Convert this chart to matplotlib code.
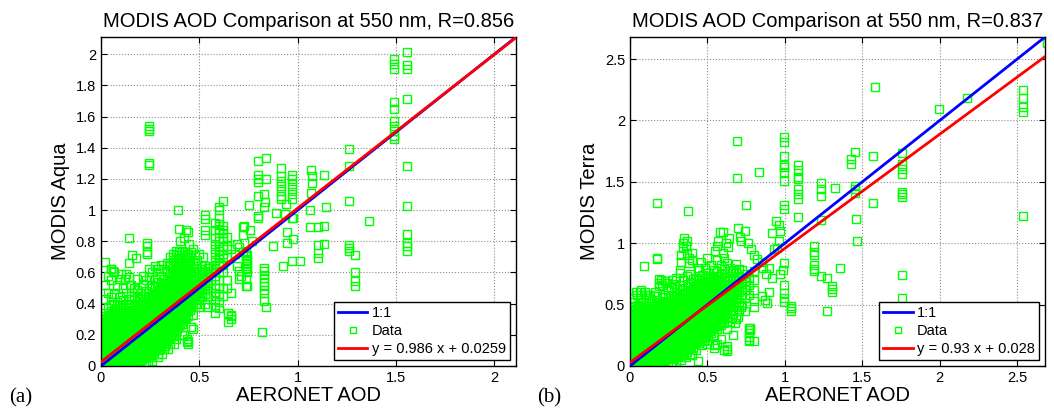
import matplotlib
matplotlib.use("Agg")
import matplotlib.pyplot as plt
from matplotlib.ticker import FuncFormatter

plt.rcParams['font.family'] = ['Liberation Sans', 'DejaVu Sans']

# ---- panel (a): MODIS Aqua vs AERONET ----
aqua_lim = 2.11
aqua_fit = (0.986, 0.0259)
aqua_R = 0.856

# dense core, read column by column: (aeronet, [modis values])
aqua_core = [
    (0.005, [0.0, 0.02, 0.04, 0.065, 0.09, 0.11, 0.135, 0.16, 0.18, 0.205, 0.23, 0.25, 0.275, 0.30, 0.32]),
    (0.02, [0.01, 0.03, 0.055, 0.08, 0.10, 0.125, 0.15, 0.17, 0.195, 0.22, 0.24, 0.265, 0.29, 0.31, 0.34, 0.43, 0.52]),
    (0.035, [0.0, 0.025, 0.045, 0.07, 0.095, 0.12, 0.14, 0.165, 0.19, 0.21, 0.235, 0.26, 0.28, 0.305, 0.33, 0.37, 0.47, 0.58]),
    (0.05, [0.01, 0.035, 0.06, 0.085, 0.105, 0.13, 0.155, 0.175, 0.20, 0.225, 0.25, 0.27, 0.295, 0.32, 0.35, 0.39, 0.44, 0.55, 0.62]),
    (0.065, [0.0, 0.025, 0.05, 0.075, 0.10, 0.12, 0.145, 0.17, 0.19, 0.215, 0.24, 0.26, 0.285, 0.31, 0.335, 0.36, 0.40, 0.46, 0.60]),
    (0.08, [0.01, 0.035, 0.06, 0.08, 0.105, 0.13, 0.155, 0.18, 0.20, 0.225, 0.25, 0.275, 0.30, 0.32, 0.345, 0.37, 0.41, 0.52]),
    (0.095, [0.0, 0.02, 0.045, 0.07, 0.095, 0.115, 0.14, 0.165, 0.19, 0.21, 0.235, 0.26, 0.28, 0.305, 0.33, 0.36, 0.39, 0.44, 0.56]),
    (0.11, [0.01, 0.035, 0.06, 0.085, 0.105, 0.13, 0.155, 0.175, 0.20, 0.225, 0.25, 0.27, 0.295, 0.32, 0.345, 0.38, 0.42, 0.50]),
    (0.125, [0.0, 0.025, 0.05, 0.075, 0.095, 0.12, 0.145, 0.17, 0.19, 0.215, 0.24, 0.26, 0.285, 0.31, 0.335, 0.36, 0.40, 0.47, 0.59]),
    (0.14, [0.02, 0.045, 0.07, 0.09, 0.115, 0.14, 0.16, 0.185, 0.21, 0.235, 0.255, 0.28, 0.305, 0.33, 0.355, 0.39, 0.43, 0.57]),
    (0.155, [0.01, 0.035, 0.06, 0.085, 0.11, 0.13, 0.155, 0.18, 0.20, 0.225, 0.25, 0.275, 0.30, 0.32, 0.345, 0.37, 0.40, 0.45, 0.52]),
    (0.17, [0.02, 0.05, 0.075, 0.10, 0.12, 0.145, 0.17, 0.19, 0.215, 0.24, 0.26, 0.285, 0.31, 0.335, 0.36, 0.385, 0.42, 0.50]),
    (0.185, [0.04, 0.065, 0.09, 0.11, 0.135, 0.16, 0.18, 0.205, 0.23, 0.25, 0.275, 0.30, 0.325, 0.35, 0.37, 0.40, 0.44, 0.49, 0.56]),
    (0.20, [0.03, 0.06, 0.085, 0.11, 0.13, 0.155, 0.18, 0.20, 0.225, 0.25, 0.27, 0.295, 0.32, 0.345, 0.37, 0.395, 0.43, 0.47]),
    (0.215, [0.05, 0.075, 0.10, 0.12, 0.145, 0.17, 0.19, 0.215, 0.24, 0.26, 0.285, 0.31, 0.335, 0.36, 0.38, 0.41, 0.45, 0.52, 0.58]),
    (0.23, [0.02, 0.07, 0.09, 0.115, 0.14, 0.16, 0.185, 0.21, 0.235, 0.255, 0.28, 0.305, 0.33, 0.355, 0.38, 0.40, 0.43, 0.48, 0.55]),
    (0.245, [0.08, 0.10, 0.125, 0.15, 0.175, 0.20, 0.22, 0.245, 0.27, 0.29, 0.315, 0.34, 0.365, 0.39, 0.41, 0.44, 0.50, 0.57, 0.62]),
    (0.26, [0.06, 0.09, 0.12, 0.145, 0.17, 0.19, 0.215, 0.24, 0.26, 0.285, 0.31, 0.335, 0.36, 0.38, 0.405, 0.43, 0.46, 0.52, 0.60]),
    (0.275, [0.10, 0.13, 0.155, 0.18, 0.20, 0.225, 0.25, 0.27, 0.295, 0.32, 0.345, 0.37, 0.39, 0.415, 0.44, 0.47, 0.51, 0.56, 0.64]),
    (0.29, [0.08, 0.12, 0.145, 0.17, 0.19, 0.215, 0.24, 0.26, 0.285, 0.31, 0.335, 0.36, 0.385, 0.41, 0.435, 0.46, 0.49, 0.54, 0.62]),
    (0.305, [0.13, 0.16, 0.185, 0.21, 0.23, 0.255, 0.28, 0.30, 0.325, 0.35, 0.375, 0.40, 0.42, 0.445, 0.47, 0.50, 0.53, 0.58, 0.65]),
    (0.32, [0.11, 0.15, 0.175, 0.20, 0.225, 0.25, 0.27, 0.295, 0.32, 0.345, 0.37, 0.39, 0.415, 0.44, 0.465, 0.49, 0.52, 0.56, 0.62]),
    (0.335, [0.16, 0.19, 0.215, 0.24, 0.26, 0.285, 0.31, 0.335, 0.36, 0.38, 0.405, 0.43, 0.455, 0.48, 0.50, 0.53, 0.56, 0.60, 0.66]),
    (0.35, [0.14, 0.18, 0.21, 0.235, 0.26, 0.28, 0.305, 0.33, 0.355, 0.38, 0.40, 0.425, 0.45, 0.475, 0.50, 0.52, 0.55, 0.59, 0.64, 0.70]),
    (0.365, [0.20, 0.23, 0.255, 0.28, 0.30, 0.325, 0.35, 0.375, 0.40, 0.42, 0.445, 0.47, 0.495, 0.52, 0.54, 0.57, 0.60, 0.64, 0.68, 0.72]),
    (0.38, [0.17, 0.22, 0.25, 0.275, 0.30, 0.32, 0.345, 0.37, 0.395, 0.42, 0.44, 0.465, 0.49, 0.515, 0.54, 0.56, 0.59, 0.62, 0.66, 0.71, 0.74]),
    (0.395, [0.25, 0.28, 0.305, 0.33, 0.35, 0.375, 0.40, 0.425, 0.45, 0.47, 0.495, 0.52, 0.545, 0.57, 0.59, 0.62, 0.65, 0.69, 0.73]),
    (0.41, [0.20, 0.27, 0.30, 0.325, 0.35, 0.37, 0.395, 0.42, 0.445, 0.47, 0.49, 0.515, 0.54, 0.565, 0.59, 0.61, 0.64, 0.67, 0.71, 0.74]),
    (0.425, [0.30, 0.33, 0.355, 0.38, 0.40, 0.425, 0.45, 0.475, 0.50, 0.52, 0.545, 0.57, 0.595, 0.62, 0.64, 0.67, 0.70, 0.73]),
    (0.44, [0.14, 0.16, 0.32, 0.35, 0.375, 0.40, 0.42, 0.445, 0.47, 0.495, 0.52, 0.54, 0.565, 0.59, 0.615, 0.64, 0.66, 0.69, 0.72, 0.86]),
    (0.455, [0.36, 0.39, 0.415, 0.44, 0.46, 0.485, 0.51, 0.535, 0.56, 0.58, 0.605, 0.63, 0.655, 0.70]),
    (0.47, [0.33, 0.38, 0.41, 0.435, 0.46, 0.48, 0.505, 0.53, 0.555, 0.58, 0.60, 0.62, 0.66]),
    (0.485, [0.40, 0.43, 0.455, 0.48, 0.50, 0.525, 0.55, 0.575, 0.60, 0.64]),
    (0.50, [0.38, 0.42, 0.45, 0.475, 0.50, 0.52, 0.545, 0.57, 0.60]),
    (0.515, [0.44, 0.47, 0.495, 0.52, 0.54, 0.565, 0.59, 0.62]),
    (0.53, [0.40, 0.46, 0.49, 0.52, 0.55, 0.58, 0.61, 0.64, 0.84, 0.87, 0.94, 0.97]),
    (0.545, [0.38, 0.45, 0.50, 0.53, 0.57, 0.60, 0.63]),
    (0.58, [0.92, 0.87, 0.82, 0.78, 0.75, 0.72, 0.68, 0.65, 0.62, 0.58, 0.55, 0.50, 0.47, 0.45, 0.42, 0.38, 0.34]),
    (0.60, [1.02, 1.0, 0.95, 0.91, 0.88, 0.85, 0.80, 0.77, 0.74, 0.71, 0.69, 0.66, 0.64, 0.60, 0.55, 0.50, 0.46, 0.41, 0.37]),
    (0.62, [1.06, 0.90, 0.87, 0.85, 0.82, 0.80, 0.76, 0.72, 0.69, 0.65, 0.60, 0.50, 0.45]),
]

# the in-between columns of the solid part of the cloud
aqua_fill = [
    (0.012, [0.01, 0.03, 0.055, 0.08, 0.10, 0.125, 0.15, 0.17, 0.195, 0.22, 0.24, 0.265, 0.29]),
    (0.027, [0.0, 0.02, 0.045, 0.07, 0.09, 0.115, 0.14, 0.16, 0.185, 0.21, 0.23, 0.255, 0.28, 0.30]),
    (0.042, [0.01, 0.035, 0.06, 0.08, 0.105, 0.13, 0.15, 0.175, 0.20, 0.22, 0.245, 0.27, 0.29, 0.32]),
    (0.057, [0.0, 0.02, 0.045, 0.07, 0.095, 0.115, 0.14, 0.165, 0.19, 0.21, 0.235, 0.26, 0.28, 0.31]),
    (0.072, [0.01, 0.035, 0.06, 0.085, 0.105, 0.13, 0.155, 0.175, 0.20, 0.225, 0.25, 0.27, 0.295, 0.32]),
    (0.087, [0.0, 0.02, 0.045, 0.07, 0.095, 0.12, 0.14, 0.165, 0.19, 0.21, 0.235, 0.26, 0.285, 0.31]),
    (0.102, [0.01, 0.03, 0.055, 0.08, 0.10, 0.125, 0.15, 0.175, 0.195, 0.22, 0.245, 0.265, 0.29, 0.315]),
    (0.117, [0.0, 0.02, 0.045, 0.07, 0.09, 0.115, 0.14, 0.16, 0.185, 0.21, 0.23, 0.255, 0.28, 0.30]),
    (0.132, [0.01, 0.035, 0.06, 0.08, 0.105, 0.13, 0.15, 0.175, 0.20, 0.225, 0.245, 0.27, 0.295, 0.32]),
    (0.147, [0.0, 0.025, 0.05, 0.075, 0.10, 0.12, 0.145, 0.17, 0.195, 0.215, 0.24, 0.265, 0.29, 0.31, 0.335]),
    (0.162, [0.02, 0.045, 0.07, 0.09, 0.115, 0.14, 0.165, 0.185, 0.21, 0.235, 0.26, 0.28, 0.305, 0.33, 0.355]),
    (0.177, [0.03, 0.055, 0.08, 0.105, 0.125, 0.15, 0.175, 0.20, 0.22, 0.245, 0.27, 0.29, 0.315, 0.34, 0.36]),
    (0.192, [0.05, 0.075, 0.10, 0.12, 0.145, 0.17, 0.19, 0.215, 0.24, 0.265, 0.285, 0.31, 0.335, 0.36, 0.38]),
    (0.207, [0.04, 0.065, 0.09, 0.115, 0.135, 0.16, 0.185, 0.21, 0.23, 0.255, 0.28, 0.30, 0.325, 0.35, 0.375, 0.40]),
    (0.222, [0.06, 0.085, 0.11, 0.13, 0.155, 0.18, 0.205, 0.225, 0.25, 0.275, 0.295, 0.32, 0.345, 0.37, 0.39]),
    (0.237, [0.08, 0.105, 0.13, 0.15, 0.175, 0.20, 0.225, 0.245, 0.27, 0.295, 0.32, 0.34, 0.365, 0.39, 0.415]),
    (0.252, [0.07, 0.095, 0.12, 0.14, 0.165, 0.19, 0.215, 0.235, 0.26, 0.285, 0.31, 0.33, 0.355, 0.38, 0.40, 0.425]),
    (0.267, [0.09, 0.115, 0.14, 0.16, 0.185, 0.21, 0.235, 0.255, 0.28, 0.305, 0.33, 0.35, 0.375, 0.40, 0.42, 0.445]),
    (0.282, [0.11, 0.135, 0.16, 0.18, 0.205, 0.23, 0.255, 0.275, 0.30, 0.325, 0.35, 0.37, 0.395, 0.42, 0.44, 0.465]),
    (0.297, [0.10, 0.13, 0.155, 0.175, 0.20, 0.225, 0.25, 0.27, 0.295, 0.32, 0.345, 0.365, 0.39, 0.415, 0.44, 0.46, 0.485]),
    (0.312, [0.14, 0.165, 0.19, 0.21, 0.235, 0.26, 0.285, 0.305, 0.33, 0.355, 0.38, 0.40, 0.425, 0.45, 0.475, 0.50]),
    (0.327, [0.13, 0.16, 0.185, 0.205, 0.23, 0.255, 0.28, 0.30, 0.325, 0.35, 0.375, 0.395, 0.42, 0.445, 0.47, 0.49, 0.515]),
    (0.342, [0.17, 0.20, 0.225, 0.25, 0.27, 0.295, 0.32, 0.345, 0.365, 0.39, 0.415, 0.44, 0.46, 0.485, 0.51, 0.535]),
    (0.357, [0.19, 0.22, 0.245, 0.27, 0.29, 0.315, 0.34, 0.365, 0.385, 0.41, 0.435, 0.46, 0.48, 0.505, 0.53, 0.555]),
    (0.372, [0.21, 0.24, 0.265, 0.29, 0.31, 0.335, 0.36, 0.385, 0.405, 0.43, 0.455, 0.48, 0.50, 0.525, 0.55, 0.575, 0.60]),
    (0.387, [0.24, 0.265, 0.29, 0.315, 0.335, 0.36, 0.385, 0.41, 0.43, 0.455, 0.48, 0.505, 0.525, 0.55, 0.575, 0.60, 0.63]),
    (0.402, [0.26, 0.29, 0.315, 0.34, 0.36, 0.385, 0.41, 0.435, 0.455, 0.48, 0.505, 0.53, 0.55, 0.575, 0.60, 0.625, 0.66]),
    (0.417, [0.29, 0.315, 0.34, 0.365, 0.385, 0.41, 0.435, 0.46, 0.48, 0.505, 0.53, 0.555, 0.575, 0.60, 0.625, 0.65]),
    (0.432, [0.31, 0.34, 0.365, 0.39, 0.41, 0.435, 0.46, 0.485, 0.505, 0.53, 0.555, 0.58, 0.60, 0.625, 0.65, 0.68]),
]

# scattered points outside the core: (aeronet, modis)
aqua_scatter = [
    (0.02, 0.67), (0.05, 0.62), (0.06, 0.61), (0.10, 0.59), (0.12, 0.56), (0.14, 0.82),
    (0.15, 0.52), (0.17, 0.50), (0.14, 0.66), (0.16, 0.71), (0.18, 0.69), (0.233, 0.79),
    (0.233, 0.77), (0.233, 0.73), (0.233, 0.72), (0.245, 1.54), (0.245, 1.52), (0.245, 1.51),
    (0.245, 1.30), (0.245, 1.29), (0.39, 1.0), (0.395, 0.88), (0.43, 0.87), (0.42, 0.82),
    (0.445, 0.78), (0.40, 0.80), (0.46, 0.73), (0.48, 0.71), (0.50, 0.72), (0.52, 0.70),
    (0.49, 0.68), (0.47, 0.75), (0.55, 0.64), (0.56, 0.60), (0.437, 0.17), (0.437, 0.155),
    (0.47, 0.24), (0.22, 0.0), (0.24, 0.02), (0.26, 0.03), (0.29, 0.06), (0.31, 0.08),
    (0.34, 0.11), (0.37, 0.14), (0.42, 0.20), (0.46, 0.25), (0.64, 0.83), (0.64, 0.77),
    (0.64, 0.70), (0.64, 0.55), (0.64, 0.50), (0.66, 0.47), (0.66, 0.33), (0.66, 0.32),
    (0.66, 0.30), (0.645, 0.34), (0.645, 0.28), (0.69, 0.78), (0.70, 0.76), (0.72, 0.73),
    (0.70, 0.56), (0.70, 0.61), (0.74, 0.63), (0.74, 0.66), (0.74, 0.68), (0.74, 0.71),
    (0.74, 0.60), (0.739, 0.56), (0.739, 0.51), (0.76, 0.87), (0.77, 0.80), (0.72, 0.84),
    (0.72, 0.89), (0.66, 0.75), (0.68, 0.72), (0.752, 1.035), (0.693, 0.64),
    (0.80, 1.314), (0.841, 1.331), (0.80, 1.228), (0.80, 1.20), (0.80, 1.18), (0.841, 1.196),
    (0.80, 1.089), (0.829, 1.10), (0.836, 1.05), (0.829, 1.02), (0.80, 0.96), (0.80, 0.95),
    (0.916, 1.271), (0.916, 1.218), (0.916, 1.186), (0.916, 1.154), (0.913, 1.122), (0.913, 1.089),
    (0.913, 1.068), (0.97, 1.222), (0.97, 1.196), (0.97, 1.164), (0.97, 1.132), (0.97, 1.10),
    (0.97, 1.068), (0.94, 1.04), (0.975, 0.95), (1.067, 1.26), (1.072, 1.218), (1.072, 1.175),
    (1.132, 1.228), (1.144, 1.02), (1.067, 1.11), (1.064, 0.999), (1.064, 0.892), (1.105, 0.892),
    (1.132, 0.896), (1.105, 0.774), (1.105, 0.725), (1.105, 0.693), (1.132, 0.782),
    (1.013, 0.671), (0.97, 0.671), (0.923, 0.643), (0.975, 0.815), (0.945, 0.86), (0.945, 0.79),
    (0.877, 0.772), (0.89, 0.982), (0.934, 0.975), (0.97, 0.95), (0.829, 0.628), (0.829, 0.607),
    (0.829, 0.585), (0.829, 0.564), (0.829, 0.536), (0.829, 0.51), (0.829, 0.489), (0.829, 0.467),
    (0.829, 0.414), (0.84, 0.381), (0.82, 0.221), (0.739, 0.735), (0.739, 0.703), (0.739, 0.671),
    (0.739, 0.639), (0.739, 0.621), (0.74, 0.514), (0.71, 0.58), (0.727, 0.895),
    (1.26, 1.389), (1.26, 1.282), (1.26, 1.057), (1.26, 0.778), (1.26, 0.757), (1.26, 0.735),
    (1.292, 0.714), (1.292, 0.60), (1.292, 0.542), (1.292, 0.514), (1.365, 0.928),
    (1.489, 1.968), (1.489, 1.936), (1.489, 1.904), (1.489, 1.693), (1.489, 1.646),
    (1.489, 1.571), (1.489, 1.539), (1.489, 1.507), (1.489, 1.475), (1.489, 1.458),
    (1.557, 2.015), (1.557, 1.929), (1.557, 1.904), (1.557, 1.715), (1.557, 1.282),
    (1.557, 1.025), (1.557, 0.847), (1.557, 0.789), (1.557, 0.767), (1.557, 0.735),
]

# ---- panel (b): MODIS Terra vs AERONET ----
terra_lim = 2.68
terra_fit = (0.93, 0.028)
terra_R = 0.837

terra_core = [
    (0.005, [0.00, 0.03, 0.06, 0.09, 0.12, 0.15, 0.18, 0.21, 0.24, 0.27, 0.30, 0.33, 0.36, 0.39, 0.42, 0.45, 0.48]),
    (0.025, [0.01, 0.04, 0.07, 0.10, 0.13, 0.16, 0.19, 0.22, 0.25, 0.28, 0.31, 0.34, 0.37, 0.40, 0.43, 0.46, 0.52]),
    (0.045, [0.00, 0.03, 0.06, 0.09, 0.12, 0.15, 0.18, 0.21, 0.24, 0.27, 0.30, 0.33, 0.36, 0.39, 0.42, 0.45, 0.49, 0.58]),
    (0.065, [0.02, 0.05, 0.08, 0.11, 0.14, 0.17, 0.20, 0.23, 0.26, 0.29, 0.32, 0.35, 0.38, 0.41, 0.44, 0.48, 0.55, 0.60]),
    (0.085, [0.00, 0.03, 0.06, 0.09, 0.12, 0.15, 0.18, 0.21, 0.24, 0.27, 0.30, 0.33, 0.36, 0.39, 0.42, 0.46, 0.52]),
    (0.105, [0.01, 0.04, 0.07, 0.10, 0.13, 0.16, 0.19, 0.22, 0.25, 0.28, 0.31, 0.34, 0.37, 0.40, 0.43, 0.47, 0.51, 0.58]),
    (0.125, [0.00, 0.03, 0.06, 0.09, 0.12, 0.15, 0.18, 0.21, 0.24, 0.27, 0.30, 0.33, 0.36, 0.39, 0.42, 0.45, 0.49, 0.55]),
    (0.145, [0.02, 0.05, 0.08, 0.11, 0.14, 0.17, 0.20, 0.23, 0.26, 0.29, 0.32, 0.35, 0.38, 0.41, 0.44, 0.47, 0.53]),
    (0.165, [0.01, 0.04, 0.07, 0.10, 0.13, 0.16, 0.19, 0.22, 0.25, 0.28, 0.31, 0.34, 0.37, 0.40, 0.43, 0.46, 0.50, 0.57]),
    (0.185, [0.03, 0.06, 0.09, 0.12, 0.15, 0.18, 0.21, 0.24, 0.27, 0.30, 0.33, 0.36, 0.39, 0.42, 0.45, 0.48, 0.52, 0.68, 0.71]),
    (0.205, [0.02, 0.05, 0.08, 0.11, 0.14, 0.17, 0.20, 0.23, 0.26, 0.29, 0.32, 0.35, 0.38, 0.41, 0.44, 0.47, 0.51, 0.56, 0.66]),
    (0.225, [0.04, 0.07, 0.10, 0.13, 0.16, 0.19, 0.22, 0.25, 0.28, 0.31, 0.34, 0.37, 0.40, 0.43, 0.46, 0.49, 0.53, 0.58, 0.69]),
    (0.245, [0.03, 0.06, 0.09, 0.12, 0.15, 0.18, 0.21, 0.24, 0.27, 0.30, 0.33, 0.36, 0.39, 0.42, 0.45, 0.48, 0.51, 0.55, 0.62]),
    (0.265, [0.00, 0.07, 0.10, 0.13, 0.16, 0.19, 0.22, 0.25, 0.28, 0.31, 0.34, 0.37, 0.40, 0.43, 0.46, 0.49, 0.52, 0.57, 0.64]),
    (0.285, [0.06, 0.09, 0.12, 0.15, 0.18, 0.21, 0.24, 0.27, 0.30, 0.33, 0.36, 0.39, 0.42, 0.45, 0.48, 0.51, 0.54, 0.60, 0.67]),
    (0.305, [0.08, 0.11, 0.14, 0.17, 0.20, 0.23, 0.26, 0.29, 0.32, 0.35, 0.38, 0.41, 0.44, 0.47, 0.50, 0.53, 0.57, 0.63]),
    (0.325, [0.07, 0.10, 0.13, 0.16, 0.19, 0.22, 0.25, 0.28, 0.31, 0.34, 0.37, 0.40, 0.43, 0.46, 0.49, 0.52, 0.55, 0.59, 0.66, 0.76]),
    (0.345, [0.09, 0.12, 0.15, 0.18, 0.21, 0.24, 0.27, 0.30, 0.33, 0.36, 0.39, 0.42, 0.45, 0.48, 0.51, 0.54, 0.58, 0.62, 0.70]),
    (0.365, [0.11, 0.14, 0.17, 0.20, 0.23, 0.26, 0.29, 0.32, 0.35, 0.38, 0.41, 0.44, 0.47, 0.50, 0.53, 0.56, 0.60, 0.65, 0.73]),
    (0.385, [0.10, 0.16, 0.19, 0.22, 0.25, 0.28, 0.31, 0.34, 0.37, 0.40, 0.43, 0.46, 0.49, 0.52, 0.55, 0.58, 0.62, 0.68, 0.75]),
    (0.405, [0.15, 0.18, 0.21, 0.24, 0.27, 0.30, 0.33, 0.36, 0.39, 0.42, 0.45, 0.48, 0.51, 0.54, 0.57, 0.60, 0.64, 0.71]),
    (0.425, [0.13, 0.20, 0.23, 0.26, 0.29, 0.32, 0.35, 0.38, 0.41, 0.44, 0.47, 0.50, 0.53, 0.56, 0.59, 0.62, 0.66, 0.72]),
    (0.445, [0.19, 0.22, 0.25, 0.28, 0.31, 0.34, 0.37, 0.40, 0.43, 0.46, 0.49, 0.52, 0.55, 0.58, 0.61, 0.65, 0.70, 0.78]),
    (0.465, [0.17, 0.24, 0.27, 0.30, 0.33, 0.36, 0.39, 0.42, 0.45, 0.48, 0.51, 0.54, 0.57, 0.60, 0.63, 0.67, 0.74]),
    (0.485, [0.23, 0.26, 0.29, 0.32, 0.35, 0.38, 0.41, 0.44, 0.47, 0.50, 0.53, 0.56, 0.59, 0.62, 0.66, 0.72, 0.80]),
    (0.505, [0.21, 0.28, 0.31, 0.34, 0.37, 0.40, 0.43, 0.46, 0.49, 0.52, 0.55, 0.58, 0.61, 0.64, 0.69, 0.76]),
    (0.525, [0.27, 0.30, 0.33, 0.36, 0.39, 0.42, 0.45, 0.48, 0.51, 0.54, 0.57, 0.60, 0.63, 0.67, 0.73, 0.82]),
    (0.545, [0.15, 0.25, 0.32, 0.35, 0.38, 0.41, 0.44, 0.47, 0.50, 0.53, 0.56, 0.59, 0.62, 0.66, 0.71, 0.78]),
    (0.565, [0.18, 0.30, 0.34, 0.37, 0.40, 0.43, 0.46, 0.49, 0.52, 0.55, 0.58, 0.61, 0.65, 0.70, 0.77, 0.86]),
    (0.585, [0.22, 0.33, 0.36, 0.39, 0.42, 0.45, 0.48, 0.51, 0.54, 0.57, 0.60, 0.64, 0.69, 0.75, 0.82]),
    (0.605, [0.13, 0.35, 0.38, 0.41, 0.44, 0.47, 0.50, 0.53, 0.56, 0.59, 0.62, 0.66, 0.72, 0.79, 0.88]),
    (0.625, [0.16, 0.30, 0.40, 0.43, 0.46, 0.49, 0.52, 0.55, 0.58, 0.61, 0.65, 0.70, 0.76, 0.84]),
    (0.645, [0.36, 0.45, 0.48, 0.51, 0.54, 0.57, 0.60, 0.63, 0.67, 0.73, 0.80]),
    (0.665, [0.25, 0.42, 0.50, 0.53, 0.56, 0.59, 0.62, 0.66, 0.71, 0.78]),
    (0.685, [0.38, 0.48, 0.55, 0.58, 0.61, 0.65, 0.70, 0.76, 0.83]),
    (0.705, [0.45, 0.52, 0.60, 0.64, 0.68, 0.73, 0.79]),
    (0.725, [0.50, 0.58, 0.63, 0.67, 0.72, 0.78]),
    (0.745, [0.55, 0.62, 0.69, 0.75]),
    (0.77, [0.31, 0.27, 0.24, 0.21, 0.20, 0.58, 0.66, 0.72]),
    (0.80, [0.20, 0.48, 0.53, 0.62, 0.70, 0.77]),
]

terra_fill = [
    (0.015, [0.015, 0.045, 0.075, 0.105, 0.135, 0.165, 0.195, 0.225, 0.255, 0.285, 0.315, 0.345, 0.375, 0.405, 0.435, 0.465]),
    (0.035, [0.025, 0.055, 0.085, 0.115, 0.145, 0.175, 0.205, 0.235, 0.265, 0.295, 0.325, 0.355, 0.385, 0.415, 0.445]),
    (0.055, [0.015, 0.045, 0.075, 0.105, 0.135, 0.165, 0.195, 0.225, 0.255, 0.285, 0.315, 0.345, 0.375, 0.405, 0.435, 0.47, 0.50]),
    (0.075, [0.025, 0.055, 0.085, 0.115, 0.145, 0.175, 0.205, 0.235, 0.265, 0.295, 0.325, 0.355, 0.385, 0.415, 0.445, 0.475]),
    (0.095, [0.015, 0.045, 0.075, 0.105, 0.135, 0.165, 0.195, 0.225, 0.255, 0.285, 0.315, 0.345, 0.375, 0.405, 0.435, 0.47]),
    (0.115, [0.025, 0.055, 0.085, 0.115, 0.145, 0.175, 0.205, 0.235, 0.265, 0.295, 0.325, 0.355, 0.385, 0.415, 0.445, 0.49]),
    (0.135, [0.015, 0.045, 0.075, 0.105, 0.135, 0.165, 0.195, 0.225, 0.255, 0.285, 0.315, 0.345, 0.375, 0.405, 0.435, 0.465]),
    (0.155, [0.025, 0.055, 0.085, 0.115, 0.145, 0.175, 0.205, 0.235, 0.265, 0.295, 0.325, 0.355, 0.385, 0.415, 0.445, 0.475]),
    (0.175, [0.035, 0.065, 0.095, 0.125, 0.155, 0.185, 0.215, 0.245, 0.275, 0.305, 0.335, 0.365, 0.395, 0.425, 0.455, 0.485]),
    (0.195, [0.04, 0.07, 0.10, 0.13, 0.16, 0.19, 0.22, 0.25, 0.28, 0.31, 0.34, 0.37, 0.40, 0.43, 0.46, 0.49]),
    (0.215, [0.055, 0.085, 0.115, 0.145, 0.175, 0.205, 0.235, 0.265, 0.295, 0.325, 0.355, 0.385, 0.415, 0.445, 0.475, 0.505]),
    (0.235, [0.065, 0.095, 0.125, 0.155, 0.185, 0.215, 0.245, 0.275, 0.305, 0.335, 0.365, 0.395, 0.425, 0.455, 0.485, 0.515]),
    (0.255, [0.075, 0.105, 0.135, 0.165, 0.195, 0.225, 0.255, 0.285, 0.315, 0.345, 0.375, 0.405, 0.435, 0.465, 0.495, 0.525]),
    (0.275, [0.085, 0.115, 0.145, 0.175, 0.205, 0.235, 0.265, 0.295, 0.325, 0.355, 0.385, 0.415, 0.445, 0.475, 0.505, 0.535]),
    (0.295, [0.095, 0.125, 0.155, 0.185, 0.215, 0.245, 0.275, 0.305, 0.335, 0.365, 0.395, 0.425, 0.455, 0.485, 0.515, 0.545]),
    (0.315, [0.115, 0.145, 0.175, 0.205, 0.235, 0.265, 0.295, 0.325, 0.355, 0.385, 0.415, 0.445, 0.475, 0.505, 0.535, 0.565]),
    (0.335, [0.125, 0.155, 0.185, 0.215, 0.245, 0.275, 0.305, 0.335, 0.365, 0.395, 0.425, 0.455, 0.485, 0.515, 0.545, 0.575]),
    (0.355, [0.135, 0.165, 0.195, 0.225, 0.255, 0.285, 0.315, 0.345, 0.375, 0.405, 0.435, 0.465, 0.495, 0.525, 0.555, 0.585]),
    (0.375, [0.155, 0.185, 0.215, 0.245, 0.275, 0.305, 0.335, 0.365, 0.395, 0.425, 0.455, 0.485, 0.515, 0.545, 0.575, 0.605]),
    (0.395, [0.165, 0.195, 0.225, 0.255, 0.285, 0.315, 0.345, 0.375, 0.405, 0.435, 0.465, 0.495, 0.525, 0.555, 0.585, 0.615]),
    (0.415, [0.185, 0.215, 0.245, 0.275, 0.305, 0.335, 0.365, 0.395, 0.425, 0.455, 0.485, 0.515, 0.545, 0.575, 0.605, 0.635]),
    (0.435, [0.205, 0.235, 0.265, 0.295, 0.325, 0.355, 0.385, 0.415, 0.445, 0.475, 0.505, 0.535, 0.565, 0.595, 0.625, 0.655]),
    (0.455, [0.225, 0.255, 0.285, 0.315, 0.345, 0.375, 0.405, 0.435, 0.465, 0.495, 0.525, 0.555, 0.585, 0.615, 0.645, 0.675]),
    (0.475, [0.245, 0.275, 0.305, 0.335, 0.365, 0.395, 0.425, 0.455, 0.485, 0.515, 0.545, 0.575, 0.605, 0.635, 0.665, 0.695]),
    (0.495, [0.265, 0.295, 0.325, 0.355, 0.385, 0.415, 0.445, 0.475, 0.505, 0.535, 0.565, 0.595, 0.625, 0.655, 0.685, 0.715]),
    (0.515, [0.285, 0.315, 0.345, 0.375, 0.405, 0.435, 0.465, 0.495, 0.525, 0.555, 0.585, 0.615, 0.645, 0.675, 0.715]),
    (0.535, [0.305, 0.335, 0.365, 0.395, 0.425, 0.455, 0.485, 0.515, 0.545, 0.575, 0.605, 0.635, 0.665, 0.695, 0.725]),
    (0.555, [0.325, 0.355, 0.385, 0.415, 0.445, 0.475, 0.505, 0.535, 0.565, 0.595, 0.625, 0.655, 0.685, 0.735]),
    (0.575, [0.345, 0.375, 0.405, 0.435, 0.465, 0.495, 0.525, 0.555, 0.585, 0.615, 0.645, 0.675, 0.705, 0.735]),
]

terra_scatter = [
    (0.02, 0.55), (0.04, 0.60), (0.07, 0.62), (0.10, 0.60), (0.13, 0.58), (0.16, 0.60),
    (0.19, 0.65), (0.20, 0.70), (0.091, 0.818), (0.177, 0.87), (0.177, 0.88), (0.24, 0.68),
    (0.27, 0.70), (0.30, 0.72), (0.32, 0.78), (0.33, 0.85), (0.33, 0.90), (0.34, 0.96),
    (0.34, 1.0), (0.35, 1.04), (0.36, 0.98), (0.37, 0.92), (0.38, 0.88), (0.38, 0.84),
    (0.37, 1.02), (0.40, 0.86), (0.40, 0.92), (0.44, 0.80), (0.46, 0.85), (0.50, 0.88),
    (0.55, 0.94), (0.56, 0.98), (0.57, 1.02), (0.58, 1.09), (0.60, 1.09), (0.62, 1.0),
    (0.63, 0.97), (0.60, 0.92), (0.64, 1.04), (0.70, 1.12), (0.71, 1.05), (0.72, 1.02),
    (0.74, 1.10), (0.76, 1.0), (0.78, 0.95), (0.80, 0.90), (0.82, 0.87), (0.85, 0.85),
    (0.86, 0.80), (0.88, 0.75), (0.90, 0.80), (0.93, 0.95), (0.94, 1.18), (0.96, 1.15),
    (0.97, 1.10), (0.96, 1.02), (0.95, 0.96), (0.92, 1.08), (0.90, 0.60), (0.87, 0.54),
    (0.886, 0.513), (0.85, 0.57), (0.97, 0.75), (0.99, 0.78), (0.92, 0.72), (0.68, 0.35),
    (0.70, 0.40), (0.74, 0.45), (0.72, 0.48), (0.66, 0.39), (0.437, 0.04), (0.27, 0.0),
    (0.30, 0.03), (0.33, 0.05), (0.36, 0.07), (0.40, 0.09), (0.627, 0.12), (0.627, 0.14),
    (0.55, 0.17), (0.50, 0.18), (0.48, 0.20), (0.774, 0.308), (0.774, 0.29),
    (0.177, 1.33), (0.374, 1.262), (0.688, 1.835), (0.688, 1.535), (0.75, 1.309), (0.832, 1.584),
    (0.995, 1.862), (0.995, 1.821), (0.995, 1.707), (0.995, 1.636), (0.995, 1.617), (0.995, 1.581),
    (0.995, 1.508), (0.995, 1.309), (0.995, 1.276), (0.995, 0.84), (0.995, 0.662), (0.995, 0.594),
    (0.995, 0.553), (0.995, 0.518), (1.088, 1.636), (1.088, 1.595), (1.088, 1.54), (1.088, 1.521),
    (1.088, 1.44), (1.088, 1.399), (1.088, 1.363), (1.088, 1.213), (1.038, 0.491), (1.038, 0.47),
    (1.038, 0.45), (1.189, 0.981), (1.19, 0.93), (1.19, 0.90), (1.19, 0.82), (1.19, 0.79),
    (1.19, 0.775), (1.232, 1.494), (1.232, 1.44), (1.232, 1.385), (1.232, 1.19), (1.232, 0.736),
    (1.271, 0.717), (1.271, 0.444), (1.304, 0.649), (1.304, 0.625), (1.304, 0.60), (1.323, 1.453),
    (1.354, 0.799), (1.427, 1.685), (1.427, 1.645), (1.455, 1.745), (1.455, 1.467), (1.455, 1.44),
    (1.455, 1.41), (1.462, 1.194), (1.464, 1.017), (1.572, 1.712), (1.567, 1.325), (1.585, 2.271),
    (1.756, 1.734), (1.756, 1.644), (1.756, 1.603), (1.756, 1.562), (1.756, 1.418), (1.756, 1.399),
    (1.756, 1.38), (1.756, 0.739), (1.756, 0.553), (1.994, 2.094), (2.177, 2.184),
    (2.54, 2.249), (2.54, 2.181), (2.54, 2.113), (2.54, 2.072), (2.54, 1.221), (2.69, 2.63),
]


def unpack(columns, scatter):
    xs, ys = [], []
    for cols in columns:
        for x, col in cols:
            xs += [x] * len(col)
            ys += col
    for x, y in scatter:
        xs.append(x)
        ys.append(y)
    return xs, ys


def panel(ax, columns, scatter, lim, fit, r, ylabel, ticks):
    xs, ys = unpack(columns, scatter)
    data, = ax.plot(xs, ys, 's', mfc='none', mec=(0, 1, 0), ms=5.2, mew=1.0,
                    label='Data', zorder=2)
    one, = ax.plot([0, lim], [0, lim], color='b', lw=2, label='1:1', zorder=3)
    a, b = fit
    reg, = ax.plot([0, lim], [b, a * lim + b], color='r', lw=2,
                   label='y = %g x + %g' % (a, b), zorder=4)
    ax.set_xlim(0, lim)
    ax.set_ylim(0, lim)
    ax.set_xticks(ticks)
    ax.set_yticks(ticks)
    fmt = FuncFormatter(lambda v, p: '%g' % v)
    ax.xaxis.set_major_formatter(fmt)
    ax.yaxis.set_major_formatter(fmt)
    ax.tick_params(direction='in', top=True, right=True, labelsize=10.5, length=4)
    ax.grid(True, ls=':', color='0.55', lw=0.8)
    ax.set_axisbelow(True)
    for s in ax.spines.values():
        s.set_linewidth(1.0)
    ax.set_title('MODIS AOD Comparison at 550 nm, R=%.3f' % r, fontsize=14.5, pad=7)
    ax.set_xlabel('AERONET AOD', fontsize=14.5, labelpad=1)
    ax.set_ylabel(ylabel, fontsize=14.5, labelpad=4)
    leg = ax.legend(handles=[one, data, reg], loc='lower right', fontsize=10.5,
                    fancybox=False, edgecolor='k', framealpha=1, markerscale=0.7,
                    handlelength=2.0, labelspacing=0.25, borderpad=0.3,
                    borderaxespad=0.4, handletextpad=0.3)
    leg.get_frame().set_linewidth(1.0)
    leg.set_zorder(5)


fig = plt.figure(figsize=(10.54, 4.15), dpi=100)
ax1 = fig.add_axes([0.0958, 0.1181, 0.3938, 0.7928])
ax2 = fig.add_axes([0.5977, 0.1181, 0.3938, 0.7928])

panel(ax1, [aqua_core, aqua_fill], aqua_scatter, aqua_lim, aqua_fit, aqua_R, 'MODIS Aqua',
      [0, 0.2, 0.4, 0.6, 0.8, 1, 1.2, 1.4, 1.6, 1.8, 2])
ax1.set_xticks([0, 0.5, 1, 1.5, 2])
panel(ax2, [terra_core, terra_fill], terra_scatter, terra_lim, terra_fit, terra_R, 'MODIS Terra',
      [0, 0.5, 1, 1.5, 2, 2.5])

fig.text(0.009, 0.03, '(a)', family='Liberation Serif', fontsize=15)
fig.text(0.510, 0.03, '(b)', family='Liberation Serif', fontsize=15)

fig.savefig('out.png', dpi=100)
